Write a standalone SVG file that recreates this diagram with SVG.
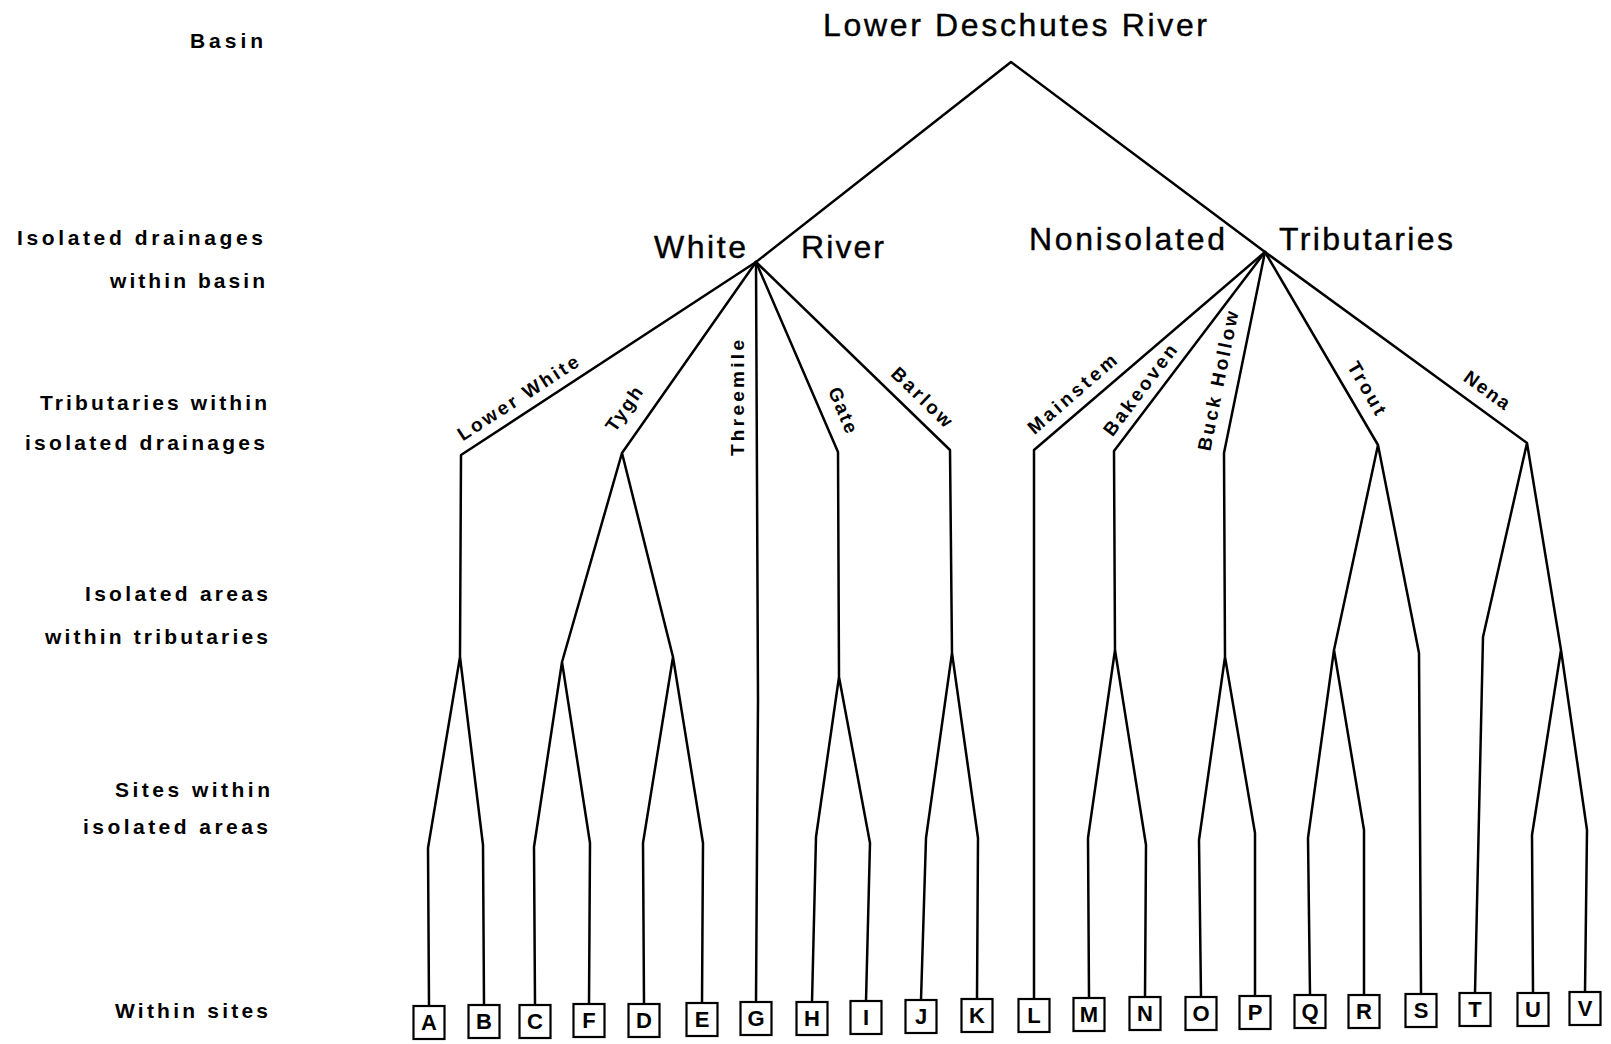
<svg xmlns="http://www.w3.org/2000/svg" width="1611" height="1044" viewBox="0 0 1611 1044">
<style>
.ln{fill:none;stroke:#000;stroke-width:2.5;stroke-linejoin:round;stroke-linecap:round}
.lvl{font-family:"Liberation Sans",Arial,sans-serif;font-weight:bold;font-size:21px;fill:#000}
.big{font-family:"Liberation Sans",Arial,sans-serif;font-size:32px;fill:#000;stroke:#000;stroke-width:0.4}
.trib{font-family:"Liberation Sans",Arial,sans-serif;font-weight:bold;font-size:19px;fill:#000;text-anchor:middle;dominant-baseline:central}
.bx{fill:#fff;stroke:#000;stroke-width:2.2}
.ltr{font-family:"Liberation Sans",Arial,sans-serif;font-weight:bold;font-size:22px;fill:#000;text-anchor:middle}
</style>
<rect width="1611" height="1044" fill="#fff"/>
<g id="levels">
<text class="lvl" x="190" y="48" textLength="73" lengthAdjust="spacing">Basin</text>
<text class="lvl" x="17" y="245" textLength="246" lengthAdjust="spacing">Isolated drainages</text>
<text class="lvl" x="110" y="288" textLength="155" lengthAdjust="spacing">within basin</text>
<text class="lvl" x="40" y="410" textLength="227" lengthAdjust="spacing">Tributaries within</text>
<text class="lvl" x="25" y="450" textLength="240" lengthAdjust="spacing">isolated drainages</text>
<text class="lvl" x="85" y="601" textLength="183" lengthAdjust="spacing">Isolated areas</text>
<text class="lvl" x="45" y="644" textLength="223" lengthAdjust="spacing">within tributaries</text>
<text class="lvl" x="115" y="797" textLength="155" lengthAdjust="spacing">Sites within</text>
<text class="lvl" x="83" y="834" textLength="185" lengthAdjust="spacing">isolated areas</text>
<text class="lvl" x="115" y="1018" textLength="153" lengthAdjust="spacing">Within sites</text>
</g>
<g id="connectors">
<path class="ln" d="M756,262 L1011,62 L1265,252"/>
<path class="ln" d="M756,262 L461,455 L460,657 M460,657 L428,848 L429,1006 M460,657 L483,845 L484,1005"/>
<path class="ln" d="M756,262 L622,453 L562,662 M622,453 L673,657 M562,662 L534,847 L535,1005 M562,662 L590,843 L589,1004 M673,657 L643,843 L644,1004 M673,657 L703,843 L702,1003"/>
<path class="ln" d="M756,262 L758,700 L756,1002"/>
<path class="ln" d="M756,262 L838,452 L839,677 M839,677 L816,837 L812,1002 M839,677 L870,843 L866,1001"/>
<path class="ln" d="M756,262 L950,450 L952,653 M952,653 L926,838 L921,1000 M952,653 L978,838 L977,999"/>
<path class="ln" d="M1265,252 L1034,450 L1034,999"/>
<path class="ln" d="M1265,252 L1114,451 L1115,650 M1115,650 L1088,838 L1089,998 M1115,650 L1146,845 L1145,997"/>
<path class="ln" d="M1265,252 L1224,453 L1225,657 M1225,657 L1199,840 L1201,997 M1225,657 L1255,833 L1255,996"/>
<path class="ln" d="M1265,252 L1378,445 L1334,650 M1334,650 L1308,838 L1310,995 M1334,650 L1364,830 L1364,995 M1378,445 L1419,653 L1421,994"/>
<path class="ln" d="M1265,252 L1527,443 L1483,637 L1475,993 M1527,443 L1561,650 M1561,650 L1532,835 L1533,993 M1561,650 L1587,830 L1585,992"/>
</g>
<g id="basin"><text class="big" x="823" y="36" textLength="384" lengthAdjust="spacing">Lower Deschutes River</text></g>
<g id="white-river"><text class="big" x="654" y="258" textLength="92" lengthAdjust="spacing">White</text><text class="big" x="801" y="258" textLength="83" lengthAdjust="spacing">River</text></g>
<g id="nonisolated-tributaries"><text class="big" x="1029" y="250" textLength="196" lengthAdjust="spacing">Nonisolated</text><text class="big" x="1279" y="250" textLength="174" lengthAdjust="spacing">Tributaries</text></g>
<g id="lower-white"><text class="trib" x="518" y="398" textLength="140" lengthAdjust="spacing" transform="rotate(-33 518 398)">Lower White</text></g>
<g id="tygh"><text class="trib" x="624" y="409" textLength="50" lengthAdjust="spacing" transform="rotate(-55 624 409)">Tygh</text></g>
<g id="threemile"><text class="trib" x="737" y="398" textLength="116" lengthAdjust="spacing" transform="rotate(-90 737 398)">Threemile</text></g>
<g id="gate"><text class="trib" x="843" y="410" textLength="48" lengthAdjust="spacing" transform="rotate(67 843 410)">Gate</text></g>
<g id="barlow"><text class="trib" x="922" y="397" textLength="77" lengthAdjust="spacing" transform="rotate(44 922 397)">Barlow</text></g>
<g id="mainstem"><text class="trib" x="1072" y="394" textLength="111" lengthAdjust="spacing" transform="rotate(-41 1072 394)">Mainstem</text></g>
<g id="bakeoven"><text class="trib" x="1140" y="390" textLength="109" lengthAdjust="spacing" transform="rotate(-53 1140 390)">Bakeoven</text></g>
<g id="buck-hollow"><text class="trib" x="1218" y="381" textLength="142" lengthAdjust="spacing" transform="rotate(-78.5 1218 381)">Buck Hollow</text></g>
<g id="trout"><text class="trib" x="1367" y="388" textLength="58" lengthAdjust="spacing" transform="rotate(60 1367 388)">Trout</text></g>
<g id="nena"><text class="trib" x="1487" y="390" textLength="52" lengthAdjust="spacing" transform="rotate(36 1487 390)">Nena</text></g>
<g id="site-A"><rect class="bx" x="413.5" y="1006" width="31" height="33"/><text class="ltr" x="429" y="1030">A</text></g>
<g id="site-B"><rect class="bx" x="468.5" y="1005" width="31" height="33"/><text class="ltr" x="484" y="1029">B</text></g>
<g id="site-C"><rect class="bx" x="519.5" y="1005" width="31" height="33"/><text class="ltr" x="535" y="1029">C</text></g>
<g id="site-F"><rect class="bx" x="573.5" y="1004" width="31" height="33"/><text class="ltr" x="589" y="1028">F</text></g>
<g id="site-D"><rect class="bx" x="628.5" y="1004" width="31" height="33"/><text class="ltr" x="644" y="1028">D</text></g>
<g id="site-E"><rect class="bx" x="686.5" y="1003" width="31" height="33"/><text class="ltr" x="702" y="1027">E</text></g>
<g id="site-G"><rect class="bx" x="740.5" y="1002" width="31" height="33"/><text class="ltr" x="756" y="1026">G</text></g>
<g id="site-H"><rect class="bx" x="796.5" y="1002" width="31" height="33"/><text class="ltr" x="812" y="1026">H</text></g>
<g id="site-I"><rect class="bx" x="850.5" y="1001" width="31" height="33"/><text class="ltr" x="866" y="1025">I</text></g>
<g id="site-J"><rect class="bx" x="905.5" y="1000" width="31" height="33"/><text class="ltr" x="921" y="1024">J</text></g>
<g id="site-K"><rect class="bx" x="961.5" y="999" width="31" height="33"/><text class="ltr" x="977" y="1023">K</text></g>
<g id="site-L"><rect class="bx" x="1018.5" y="999" width="31" height="33"/><text class="ltr" x="1034" y="1023">L</text></g>
<g id="site-M"><rect class="bx" x="1073.5" y="998" width="31" height="33"/><text class="ltr" x="1089" y="1022">M</text></g>
<g id="site-N"><rect class="bx" x="1129.5" y="997" width="31" height="33"/><text class="ltr" x="1145" y="1021">N</text></g>
<g id="site-O"><rect class="bx" x="1185.5" y="997" width="31" height="33"/><text class="ltr" x="1201" y="1021">O</text></g>
<g id="site-P"><rect class="bx" x="1239.5" y="996" width="31" height="33"/><text class="ltr" x="1255" y="1020">P</text></g>
<g id="site-Q"><rect class="bx" x="1294.5" y="995" width="31" height="33"/><text class="ltr" x="1310" y="1019">Q</text></g>
<g id="site-R"><rect class="bx" x="1348.5" y="995" width="31" height="33"/><text class="ltr" x="1364" y="1019">R</text></g>
<g id="site-S"><rect class="bx" x="1405.5" y="994" width="31" height="33"/><text class="ltr" x="1421" y="1018">S</text></g>
<g id="site-T"><rect class="bx" x="1459.5" y="993" width="31" height="33"/><text class="ltr" x="1475" y="1017">T</text></g>
<g id="site-U"><rect class="bx" x="1517.5" y="993" width="31" height="33"/><text class="ltr" x="1533" y="1017">U</text></g>
<g id="site-V"><rect class="bx" x="1569.5" y="992" width="31" height="33"/><text class="ltr" x="1585" y="1016">V</text></g>
</svg>
